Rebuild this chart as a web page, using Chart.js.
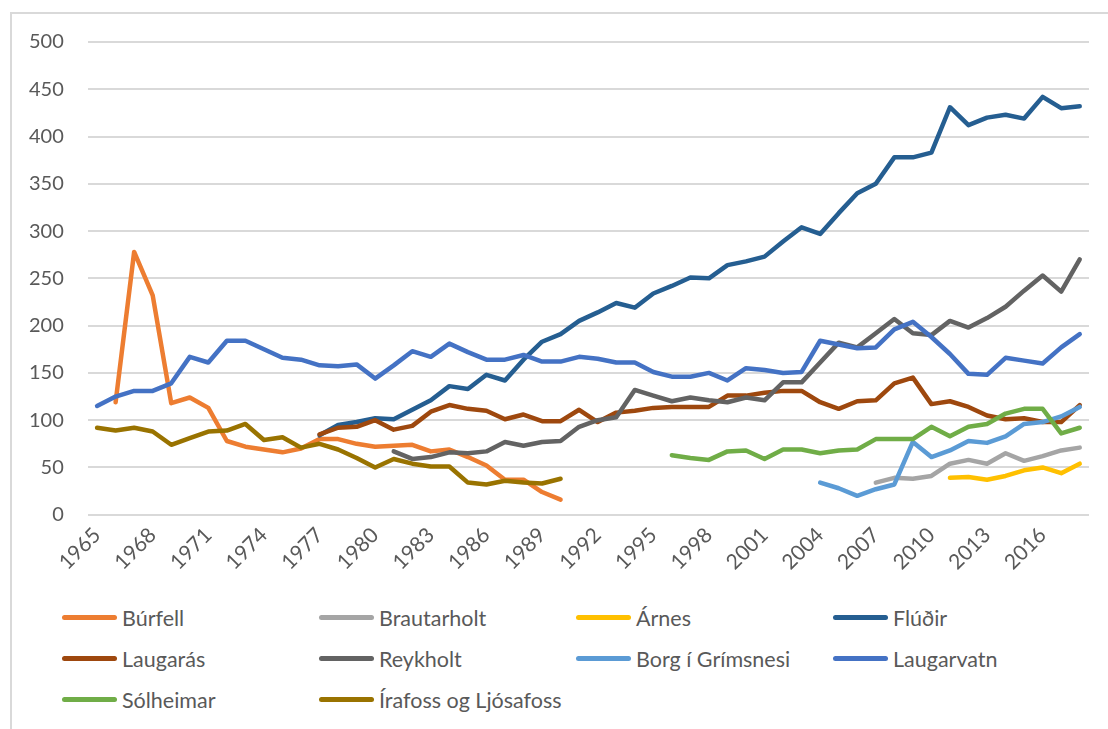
<!DOCTYPE html>
<html>
<head>
<meta charset="utf-8">
<script src="https://cdn.jsdelivr.net/npm/chart.js@4.4.1/dist/chart.umd.min.js"></script>
<style>
  body { margin: 0; background: #fff; width: 1108px; height: 729px; overflow: hidden; font-family: Lato, sans-serif; }
  #frame { position: absolute; left: 10px; top: 12px; width: 1200px; height: 800px; border-left: 2px solid #d9d9d9; border-top: 2px solid #d9d9d9; }
  #wrap { position: absolute; left: -23px; top: 0; width: 1131px; height: 591px; }
  #legend { position: absolute; left: 62px; top: 597px; display: grid; grid-template-columns: repeat(4, 257px); grid-auto-rows: 41px; }
  .item { display: flex; align-items: center; color: #595959; font-size: 21.5px; white-space: nowrap; }
  .swatch { width: 55px; height: 5px; border-radius: 3px; margin-right: 5px; }
</style>
</head>
<body>
<div id="frame"></div>
<div id="wrap"><canvas id="chart"></canvas></div>
<div id="legend"></div>
<script>
const years = [];
for (let y = 1965; y <= 2018; y++) years.push(String(y));

const _ = null;
// 1965 .. 2018
const burfell = [_, 119, 278, 232, 118, 124, 113, 78, 72, 69, 66, 70, 80, 80, 75, 72,
  73, 74, 67, 69, 61, 52, 37, 37, 24, 16];
const brautarholt = [
  _, _, _, _, _, _, _, _, _, _, _, _, _, _, _, _, _, _, _, _, _, _, _, _, _, _,
  _, _, _, _, _, _, _, _, _, _, _, _, _, _, _, _,
  34, 39, 38, 41, 54, 58, 54, 65, 57, 62, 68, 71];
const arnes = [
  _, _, _, _, _, _, _, _, _, _, _, _, _, _, _, _, _, _, _, _, _, _, _, _, _, _,
  _, _, _, _, _, _, _, _, _, _, _, _, _, _, _, _, _, _, _, _,
  39, 40, 37, 41, 47, 50, 44, 54];
const fludir = [_, _, _, _, _, _, _, _, _, _, _, _, 84, 95, 98, 102,
  101, 111, 121, 136, 133, 148, 142, 164, 183, 191, 205, 214, 224, 219, 234,
  242, 251, 250, 264, 268, 273, 289, 304, 297, 319, 340, 350, 378, 378, 383,
  431, 412, 420, 423, 419, 442, 430, 432];
const laugaras = [_, _, _, _, _, _, _, _, _, _, _, _, 85, 92, 93, 100,
  90, 94, 109, 116, 112, 110, 101, 106, 99, 99, 111, 98, 108, 110, 113,
  114, 114, 114, 126, 126, 129, 131, 131, 119, 112, 120, 121, 139, 145, 117,
  120, 114, 105, 101, 102, 98, 98, 116];
const reykholt = [_, _, _, _, _, _, _, _, _, _, _, _, _, _, _, _,
  67, 59, 61, 66, 65, 67, 77, 73, 77, 78, 93, 100, 103, 132, 126,
  120, 124, 121, 119, 124, 121, 140, 140, 161, 182, 177, 192, 207, 192, 190,
  205, 198, 208, 220, 237, 253, 236, 270];
const borg = [
  _, _, _, _, _, _, _, _, _, _, _, _, _, _, _, _, _, _, _, _, _, _, _, _, _, _,
  _, _, _, _, _, _, _, _, _, _, _, _, _,
  34, 28, 20, 27, 32, 77, 61, 68, 78, 76, 83, 96, 98, 104, 114];
const laugarvatn = [115, 125, 131, 131, 139, 167, 161, 184, 184, 175, 166, 164, 158, 157, 159, 144,
  158, 173, 167, 181, 172, 164, 164, 169, 162, 162, 167, 165, 161, 161, 151,
  146, 146, 150, 142, 155, 153, 150, 151, 184, 180, 176, 177, 196, 204, 188,
  170, 149, 148, 166, 163, 160, 177, 191];
const solheimar = [
  _, _, _, _, _, _, _, _, _, _, _, _, _, _, _, _, _, _, _, _, _, _, _, _, _, _, _, _, _, _, _,
  63, 60, 58, 67, 68, 59, 69, 69, 65, 68, 69, 80, 80, 80, 93,
  83, 93, 96, 107, 112, 112, 86, 92];
const irafoss = [92, 89, 92, 88, 74, 81, 88, 89, 96, 79, 82, 71, 75, 69, 60, 50,
  59, 54, 51, 51, 34, 32, 36, 34, 33, 38];

const names = ['Búrfell', 'Brautarholt', 'Árnes', 'Flúðir', 'Laugarás', 'Reykholt',
  'Borg í Grímsnesi', 'Laugarvatn', 'Sólheimar', 'Írafoss og Ljósafoss'];
const series = [burfell, brautarholt, arnes, fludir, laugaras, reykholt, borg, laugarvatn, solheimar, irafoss];
const colors = ['#ED7D31', '#A5A5A5', '#FFC000', '#255E91', '#9E480E', '#636363',
  '#5B9BD5', '#4472C4', '#70AD47', '#997300'];

const datasets = names.map((name, i) => ({
  label: name,
  data: series[i],
  borderColor: colors[i],
  backgroundColor: colors[i],
  borderWidth: 4.5,
  pointRadius: 0,
  tension: 0,
  fill: false,
  spanGaps: false,
  borderCapStyle: 'round',
  borderJoinStyle: 'round',
  order: 10 - i
}));

const ctx = document.getElementById('chart').getContext('2d');
const chart = new Chart(ctx, {
  type: 'line',
  data: { labels: years, datasets: datasets },
  options: {
    responsive: true,
    maintainAspectRatio: false,
    animation: false,
    layout: { padding: { left: 28, right: 19, top: 42, bottom: 8 } },
    plugins: { legend: { display: false }, tooltip: { enabled: false } },
    scales: {
      x: {
        offset: true,
        grid: { display: false, drawTicks: false },
        border: { display: false },
        ticks: {
          autoSkip: false,
          minRotation: 45,
          maxRotation: 45,
          padding: 8,
          color: '#595959',
          font: { family: 'Lato', size: 21 },
          callback: (v, i) => (i % 3 === 0 ? years[i] : '')
        }
      },
      y: {
        min: 0,
        max: 500,
        grid: { color: '#d9d9d9', lineWidth: 2, drawTicks: false },
        border: { display: false },
        ticks: {
          stepSize: 50,
          padding: 24,
          color: '#595959',
          font: { family: 'Lato', size: 20 }
        }
      }
    }
  }
});

const legend = document.getElementById('legend');
names.forEach((name, i) => {
  const item = document.createElement('div');
  item.className = 'item';
  const sw = document.createElement('span');
  sw.className = 'swatch';
  sw.style.background = colors[i];
  const txt = document.createElement('span');
  txt.innerText = name;
  item.appendChild(sw);
  item.appendChild(txt);
  legend.appendChild(item);
});
</script>
</body>
</html>
